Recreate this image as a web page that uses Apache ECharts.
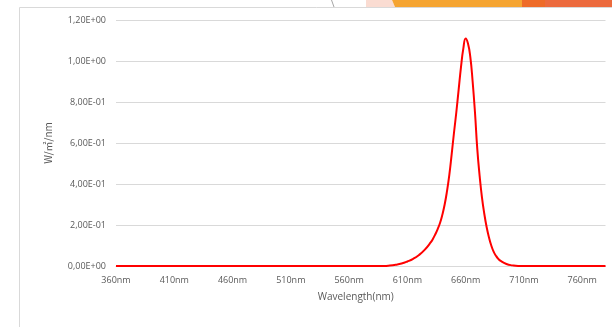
<!DOCTYPE html>
<html>
<head>
<meta charset="utf-8">
<script src="https://cdn.jsdelivr.net/npm/echarts@6/dist/echarts.min.js"></script>
<style>
  html, body { margin: 0; padding: 0; background: #ffffff; }
  #chart { width: 612px; height: 327px; }
</style>
</head>
<body>
<div id="chart"></div>
<script>
// Spectral irradiance of a deep-red LED
var wavelengthNm = [360, 590, 595, 600, 605, 610, 615, 620, 625, 630, 632, 634, 636, 638, 640, 642, 644, 646, 648, 650, 652, 654, 656, 658, 660, 662, 664, 666, 668, 670, 672, 674, 676, 678, 680, 682, 684, 686, 688, 690, 695, 700, 705, 780];
var irradiance   = [0, 0, 0.002, 0.006, 0.012, 0.022, 0.035, 0.054, 0.08, 0.115, 0.133, 0.155, 0.18, 0.21, 0.25, 0.30, 0.365, 0.445, 0.545, 0.65, 0.75, 0.86, 0.97, 1.06, 1.11, 1.085, 1.02, 0.9, 0.75, 0.57, 0.44, 0.335, 0.255, 0.19, 0.14, 0.1, 0.07, 0.05, 0.035, 0.025, 0.01, 0.003, 0, 0];
var xTickValues  = [360, 410, 460, 510, 560, 610, 660, 710, 760];
var yTickValues  = [0, 0.2, 0.4, 0.6, 0.8, 1.0, 1.2];

var FONT = '"Open Sans", "Liberation Sans", sans-serif';
var GREY_TEXT = '#595959';
var GRID_LINE = '#D9D9D9';

// Excel-style scientific notation with a decimal comma, e.g. 8,00E-01
function sciComma(v) {
  var exp = 0;
  if (Math.abs(v) > 1e-12) exp = Math.floor(Math.log10(Math.abs(v)) + 1e-9);
  var mant = v / Math.pow(10, exp);
  if (Math.abs(v) <= 1e-12) mant = 0;
  var sign = exp < 0 ? '-' : '+';
  var e = String(Math.abs(exp));
  if (e.length < 2) e = '0' + e;
  return mant.toFixed(2).replace('.', ',') + 'E' + sign + e;
}

var points = wavelengthNm.map(function (w, i) { return [w, irradiance[i]]; });

var chart = echarts.init(document.getElementById('chart'), null, { renderer: 'canvas' });
chart.setOption({
  animation: false,
  backgroundColor: '#ffffff',
  graphic: [
    // decorative band above the chart frame
    { type: 'polygon', z: -10, shape: { points: [[366, 0], [392, 0], [395, 7], [366, 7]] }, style: { fill: '#FADCD2' } },
    { type: 'polygon', z: -10, shape: { points: [[392, 0], [522, 0], [522, 7], [395, 7]] }, style: { fill: '#F5A431' } },
    { type: 'rect', z: -10, shape: { x: 522, y: 0, width: 23, height: 7 }, style: { fill: '#EE6B28' } },
    { type: 'rect', z: -10, shape: { x: 545, y: 0, width: 67, height: 7 }, style: { fill: '#EC6A3D' } },
    { type: 'line', z: -10, shape: { x1: 331.5, y1: 0, x2: 334, y2: 7 }, style: { stroke: '#A6A6A6', lineWidth: 1 } },
    // chart frame (outline only)
    { type: 'rect', z: -10, shape: { x: 19.5, y: 7.5, width: 700, height: 400 }, style: { fill: null, stroke: GRID_LINE, lineWidth: 1 } }
  ],
  grid: { left: 116, right: 6.5, top: 20, bottom: 61, containLabel: false },
  xAxis: {
    type: 'value',
    min: 360,
    max: 780,
    name: 'Wavelength(nm)',
    nameLocation: 'middle',
    nameGap: 26,
    nameTextStyle: { color: GREY_TEXT, fontFamily: FONT, fontSize: 10, padding: [0, 10, 0, 0] },
    axisLine: { show: true, lineStyle: { color: GRID_LINE, width: 1 } },
    axisTick: { show: false },
    splitLine: { show: false },
    axisLabel: {
      customValues: xTickValues,
      color: GREY_TEXT,
      fontFamily: FONT,
      fontSize: 9,
      margin: 10,
      formatter: function (v) { return v + 'nm'; }
    }
  },
  yAxis: {
    type: 'value',
    min: 0,
    max: 1.2,
    interval: 0.2,
    name: 'W/㎡/nm',
    nameLocation: 'middle',
    nameGap: 63,
    nameRotate: 90,
    nameTextStyle: { color: GREY_TEXT, fontFamily: '"Noto Sans CJK SC", "Open Sans", sans-serif', fontSize: 10 },
    axisLine: { show: false },
    axisTick: { show: false },
    splitLine: { show: true, lineStyle: { color: GRID_LINE, width: 1 } },
    axisLabel: {
      customValues: yTickValues,
      color: GREY_TEXT,
      fontFamily: FONT,
      fontSize: 9,
      margin: 10,
      formatter: sciComma
    }
  },
  series: [{
    type: 'line',
    data: points,
    smooth: 0.5,
    showSymbol: false,
    symbol: 'none',
    lineStyle: { color: '#FF0000', width: 2 },
    z: 5
  }]
});
</script>
</body>
</html>
